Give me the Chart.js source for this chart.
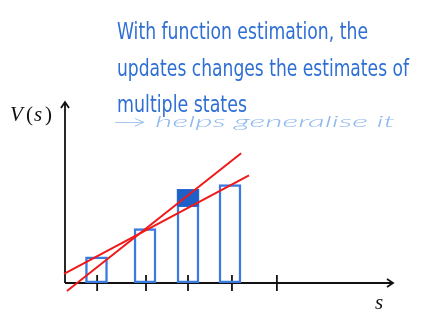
<!DOCTYPE html>
<html lang="en">
<head>
    <meta charset="UTF-8">
    <title>Function estimation</title>
    <script src="https://cdn.jsdelivr.net/npm/chart.js"></script>
    <style>
        html, body { margin: 0; padding: 0; background: #ffffff; }
        #chart { display: block; }
    </style>
</head>
<body>
    <canvas id="chart" width="438" height="313"></canvas>

    <script>
        // values (arbitrary units, axes run 0..10)
        const stateTicks = [0.98, 2.47, 3.75, 5.09, 6.46];
        const barStates = [0.96, 2.44, 3.75, 5.03];
        const barValues = [1.44, 3.0, 5.17, 5.44];
        const updateState = 3.75;
        const updateRange = [4.22, 5.17];
        const fitBefore = [{ x: -0.03, y: 0.5 }, { x: 5.61, y: 5.94 }];
        const fitAfter = [{ x: 0.06, y: -0.44 }, { x: 5.37, y: 7.17 }];

        const titleLines = [
            'With function estimation, the',
            'updates changes the estimates of',
            'multiple states'
        ];
        const noteText = '→ helps generalise it';

        // fit a text into a given width by scaling it horizontally
        function fitText(ctx, text, x, y, width) {
            const w = ctx.measureText(text).width;
            ctx.save();
            ctx.translate(x, y);
            ctx.scale(width / w, 1);
            ctx.fillText(text, 0, 0);
            ctx.restore();
        }

        const axesPlugin = {
            id: 'axes',
            beforeDatasetsDraw(chart) {
                const ctx = chart.ctx;
                const a = chart.chartArea;
                const xs = chart.scales.x;
                ctx.save();
                ctx.strokeStyle = '#111111';
                ctx.lineWidth = 1.8;
                ctx.beginPath();
                ctx.moveTo(a.left, a.bottom);
                ctx.lineTo(a.right, a.bottom);
                ctx.moveTo(a.left, a.bottom);
                ctx.lineTo(a.left, a.top);
                // arrow heads
                ctx.moveTo(a.right - 6, a.bottom - 4);
                ctx.lineTo(a.right, a.bottom);
                ctx.lineTo(a.right - 6, a.bottom + 4);
                ctx.moveTo(a.left - 4, a.top + 6);
                ctx.lineTo(a.left, a.top);
                ctx.lineTo(a.left + 4, a.top + 6);
                // state ticks crossing the axis
                stateTicks.forEach(v => {
                    const px = xs.getPixelForValue(v);
                    ctx.moveTo(px, a.bottom - 8);
                    ctx.lineTo(px, a.bottom + 8);
                });
                ctx.stroke();
                ctx.restore();
            },
            afterDraw(chart) {
                const ctx = chart.ctx;
                const a = chart.chartArea;
                ctx.save();
                // title
                ctx.fillStyle = '#2f6fd4';
                ctx.font = '23px "Liberation Sans Narrow", "DejaVu Sans Condensed", "Noto Sans", sans-serif';
                ctx.textBaseline = 'alphabetic';
                fitText(ctx, titleLines[0], 117, 39, 251);
                fitText(ctx, titleLines[1], 117, 76, 292);
                fitText(ctx, titleLines[2], 117, 112, 130);
                // handwritten note
                ctx.fillStyle = '#8cb8ee';
                ctx.font = 'italic 300 15px Lato, "DejaVu Sans", sans-serif';
                fitText(ctx, noteText, 113, 127, 282);
                // axis labels V(s) and s
                ctx.fillStyle = '#111111';
                ctx.font = 'italic 21px "Liberation Serif", "DejaVu Serif", serif';
                ctx.fillText('V', 10, 121);
                ctx.font = '21px "Liberation Serif", "DejaVu Serif", serif';
                ctx.fillText('(', 26, 121);
                ctx.font = 'italic 21px "Liberation Serif", "DejaVu Serif", serif';
                ctx.fillText('s', 34, 121);
                ctx.font = '21px "Liberation Serif", "DejaVu Serif", serif';
                ctx.fillText(')', 45, 121);
                ctx.font = 'italic 21px "Liberation Serif", "DejaVu Serif", serif';
                ctx.fillText('s', a.right - 18, 309);
                ctx.restore();
            }
        };

        const chart = new Chart(document.getElementById('chart').getContext('2d'), {
            type: 'bar',
            data: {
                datasets: [
                    {
                        type: 'line',
                        data: fitBefore,
                        borderColor: '#f01818',
                        borderWidth: 2,
                        pointRadius: 0,
                        clip: false,
                        order: 0
                    },
                    {
                        type: 'line',
                        data: fitAfter,
                        borderColor: '#f01818',
                        borderWidth: 2,
                        pointRadius: 0,
                        clip: false,
                        order: 0
                    },
                    {
                        data: [{ x: updateState, y: updateRange }],
                        backgroundColor: '#1f5fc8',
                        borderColor: '#2b6ad4',
                        borderWidth: 1,
                        borderSkipped: false,
                        barThickness: 22,
                        grouped: false,
                        order: 1
                    },
                    {
                        data: barStates.map((s, i) => ({ x: s, y: barValues[i] })),
                        backgroundColor: 'rgba(255,255,255,0)',
                        borderColor: '#3b7be0',
                        borderWidth: 1.8,
                        borderSkipped: false,
                        barThickness: 22,
                        grouped: false,
                        order: 2
                    }
                ]
            },
            options: {
                responsive: false,
                animation: false,
                layout: {
                    padding: { left: 65, right: 45, top: 102, bottom: 30 }
                },
                plugins: {
                    legend: { display: false },
                    tooltip: { enabled: false }
                },
                scales: {
                    x: { type: 'linear', min: 0, max: 10, offset: false, display: false },
                    y: { min: 0, max: 10, display: false }
                }
            },
            plugins: [axesPlugin]
        });
    </script>
</body>
</html>
